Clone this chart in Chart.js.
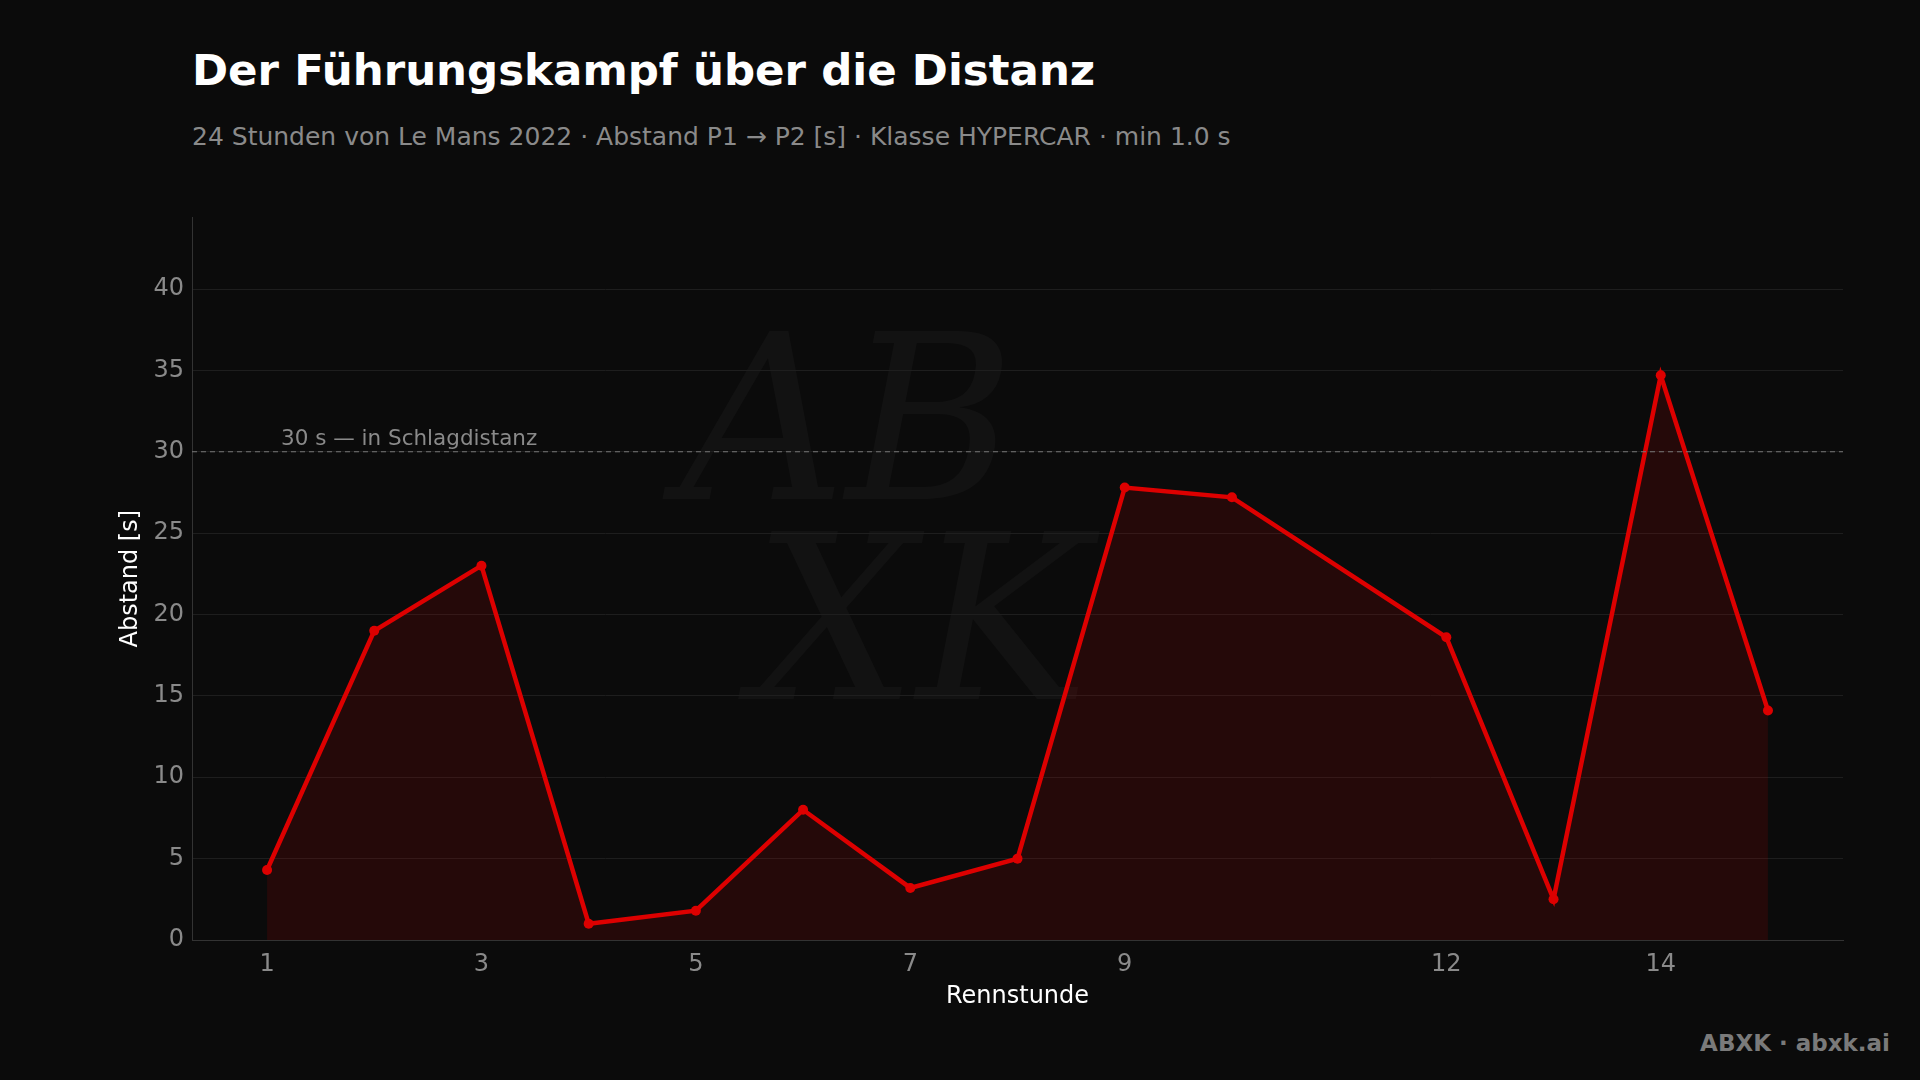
<!DOCTYPE html>
<html><head><meta charset="utf-8">
<script src="https://cdn.jsdelivr.net/npm/chart.js@4"></script>
<style>
html,body{margin:0;padding:0;background:#0b0b0b;width:1920px;height:1080px;overflow:hidden;font-family:"DejaVu Sans",sans-serif}
#t{position:absolute;left:192px;top:45px;color:#fff;font-size:43.5px;font-weight:bold}
#s{position:absolute;left:192px;top:122px;color:#8a8a8a;font-size:25px}
#f{position:absolute;right:30px;top:1030px;color:#7a7a7a;font-size:23px;font-weight:bold}
#wm{position:absolute;left:680px;top:320px;color:rgba(255,255,255,0.03);font-size:230px;font-family:"DejaVu Serif",serif;font-style:italic;line-height:200px}
#c{position:absolute;left:112px;top:195px}
</style></head><body>
<div id="wm">AB<br>&nbsp;XK</div>
<div id="t">Der Führungskampf über die Distanz</div>
<div id="s">24 Stunden von Le Mans 2022 · Abstand P1 → P2 [s] · Klasse HYPERCAR · min 1.0 s</div>
<div id="f">ABXK · abxk.ai</div>
<canvas id="c" width="1768" height="820"></canvas>
<script>
const hours=[1,2,3,4,5,6,7,8,9,10,12,13,14,15];
const gaps=[4.3,19.0,23.0,1.0,1.8,8.0,3.2,5.0,27.8,27.2,18.6,2.5,34.7,14.1];
const xTicks=[1,3,5,7,9,12,14];
const threshold=30, thresholdLabel="30 s — in Schlagdistanz";
const refLine={id:'ref',afterDatasetsDraw(ch){const {ctx,chartArea:a,scales:{y}}=ch;const py=y.getPixelForValue(threshold);
ctx.save();ctx.strokeStyle='#777';ctx.lineWidth=1.2;ctx.setLineDash([5,4]);ctx.beginPath();ctx.moveTo(a.left,py);ctx.lineTo(a.right,py);ctx.stroke();
ctx.setLineDash([]);ctx.fillStyle='#8a8a8a';ctx.font='21.5px "DejaVu Sans"';ctx.textBaseline='bottom';ctx.fillText(thresholdLabel,a.left+89,py-2);ctx.restore();}};
new Chart(document.getElementById('c'),{type:'line',
data:{datasets:[{data:hours.map((h,i)=>({x:h,y:gaps[i]})),borderColor:'#dd0000',borderWidth:4.5,pointRadius:5,pointBackgroundColor:'#dd0000',pointBorderWidth:0,fill:'origin',backgroundColor:'rgba(190,0,0,0.15)',tension:0}]},
options:{responsive:false,animation:false,layout:{padding:{top:12,right:37}},
plugins:{legend:{display:false},tooltip:{enabled:false}},
scales:{x:{type:'linear',min:0.3,max:15.7,afterBuildTicks:s=>{s.ticks=xTicks.map(v=>({value:v}))},afterFit:s=>{s.height=75},
ticks:{color:'#8a8a8a',font:{size:24,family:'DejaVu Sans'},padding:2},grid:{display:false},border:{color:'#333'},
title:{display:true,text:'Rennstunde',color:'#fff',font:{size:24,family:'DejaVu Sans'},padding:{top:2}}},
y:{min:0,max:44.4,afterBuildTicks:s=>{s.ticks=[0,5,10,15,20,25,30,35,40].map(v=>({value:v}))},afterFit:s=>{s.width=80},
ticks:{color:'#8a8a8a',font:{size:24,family:'DejaVu Sans'},padding:8},grid:{color:'#1e1e1e',drawTicks:false},border:{color:'#333'},
title:{display:true,text:'Abstand [s]',color:'#fff',font:{size:24,family:'DejaVu Sans'},padding:{bottom:2}}}}},
plugins:[refLine]});
</script></body></html>
